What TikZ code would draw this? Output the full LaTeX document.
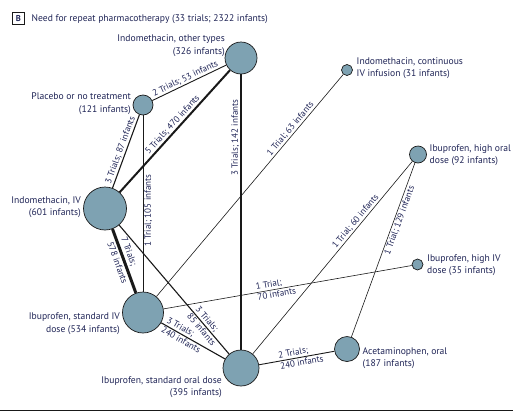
\documentclass[tikz,border=0pt]{standalone}
\usepackage{fontspec}
\setmainfont{PT Sans}
\definecolor{nodefill}{RGB}{126,162,178}
\definecolor{labc}{RGB}{30,35,85}
\definecolor{edgec}{RGB}{25,25,25}
\begin{document}
\begin{tikzpicture}[x=1pt,y=-1pt,
  pt/.style={circle, draw=edgec, line width=0.7pt, fill=nodefill, inner sep=0pt},
  lab/.style={inner sep=0pt, text=labc, font=\fontsize{9.6}{12.5}\selectfont},
  elab/.style={text=labc, font=\fontsize{9}{11}\selectfont, inner sep=1.2pt},
  wone/.style={draw=edgec, line width=0.6pt},
  wtwo/.style={draw=edgec, line width=0.9pt},
  wthree/.style={draw=edgec, line width=1.1pt},
  wfive/.style={draw=edgec, line width=2pt},
  wseven/.style={draw=edgec, line width=3pt}
]
\useasboundingbox (0,0) rectangle (513,418);

% title
\node[draw=edgec, line width=0.7pt, minimum size=12.5pt, inner sep=0pt,
      text=labc, font=\bfseries\fontsize{8.5}{10}\selectfont] (B) at (18.5,18.5) {B};
\node[anchor=west, inner sep=0pt, text=labc, font=\fontsize{9.6}{12}\selectfont] (title) at (31.5,19)
  {Need for repeat pharmacotherapy (33 trials; 2322 infants)};

% treatment nodes
\node[pt, minimum size=32pt] (io) at (241,58) {};
\node[pt, minimum size=20pt] (pl) at (143,105) {};
\node[pt, minimum size=11pt] (ci) at (347,70) {};
\node[pt, minimum size=43pt] (iv) at (105,208.5) {};
\node[pt, minimum size=17pt] (ho) at (418,154.5) {};
\node[pt, minimum size=11pt] (hi) at (417.5,264.5) {};
\node[pt, minimum size=41pt] (si) at (143,312.5) {};
\node[pt, minimum size=36pt] (so) at (241,368) {};
\node[pt, minimum size=25pt] (ac) at (347,349) {};

% node labels
\node[lab, anchor=east, align=right] (io-l) at (225,45.5) {Indomethacin, other types\\(326 infants)};
\node[lab, anchor=east, align=right] (pl-l) at (131,103.5) {Placebo or no treatment\\(121 infants)};
\node[lab, anchor=west, align=left] (ci-l) at (356.5,68) {Indomethacin, continuous\\IV infusion (31 infants)};
\node[lab, anchor=east, align=right] (iv-l) at (81,207) {Indomethacin, IV\\(601 infants)};
\node[lab, anchor=west, align=left] (ho-l) at (429.5,155) {Ibuprofen, high oral\\dose (92 infants)};
\node[lab, anchor=west, align=left] (hi-l) at (427,265) {Ibuprofen, high IV\\dose (35 infants)};
\node[lab, anchor=east, align=right] (si-l) at (120,323.5) {Ibuprofen, standard IV\\dose (534 infants)};
\node[lab, anchor=east, align=right] (so-l) at (222,387) {Ibuprofen, standard oral dose\\(395 infants)};
\node[lab, anchor=west, align=left] (ac-l) at (362.5,358) {Acetaminophen, oral\\(187 infants)};

% connectors
\draw[wtwo] (pl) -- (io) node[elab, sloped, above, pos=0.48] {2 Trials; 53 infants};
\draw[wthree] (iv) -- (pl) node[elab, sloped, above, pos=0.49] {3 Trials; 87 infants};
\draw[wone] (si) -- (pl) node[elab, rotate=90, anchor=north, pos=0.46] {1 Trial; 105 infants};
\draw[wfive] (iv) -- (io) node[elab, sloped, above, pos=0.52] {5 Trials; 470 infants};
\draw[wthree] (so) -- (io) node[elab, rotate=90, anchor=south, pos=0.77] {3 Trials; 142 infants};
\draw[wone] (si) -- (ci) node[elab, sloped, above, pos=0.74] {1 Trial; 63 infants};
\draw[wseven] (iv) -- (si)
  node[elab, sloped, anchor=south west, pos=0.12, inner sep=2pt] {7 Trials;}
  node[elab, sloped, anchor=north west, pos=0.12, inner sep=2pt] {578 infants};
\draw[wthree] (iv) -- (so)
  node[elab, sloped, anchor=south west, pos=0.66] {3 Trials;}
  node[elab, sloped, anchor=north west, pos=0.66] {85 infants};
\draw[wthree] (si) -- (so)
  node[elab, sloped, anchor=south west, pos=0.03] {3 Trials;}
  node[elab, sloped, anchor=north west, pos=0.03] {240 infants};
\draw[wone] (si) -- (hi)
  node[elab, sloped, anchor=south west, pos=0.37] {1 Trial;}
  node[elab, sloped, anchor=north west, pos=0.37] {70 infants};
\draw[wone] (so) -- (ho) node[elab, sloped, above, pos=0.67] {1 Trial; 60 infants};
\draw[wone] (ac) -- (ho) node[elab, sloped, below, pos=0.68] {1 Trial; 129 infants};
\draw[wtwo] (so) -- (ac)
  node[elab, sloped, anchor=south west, pos=0.25] {2 Trials;}
  node[elab, sloped, anchor=north west, pos=0.25] {240 infants};

% bottom rule
\coordinate (rl) at (0,410.7);
\coordinate (rr) at (513,410.7);
\draw[draw=edgec, line width=1.2pt] (rl) -- (rr);
\end{tikzpicture}
\end{document}
